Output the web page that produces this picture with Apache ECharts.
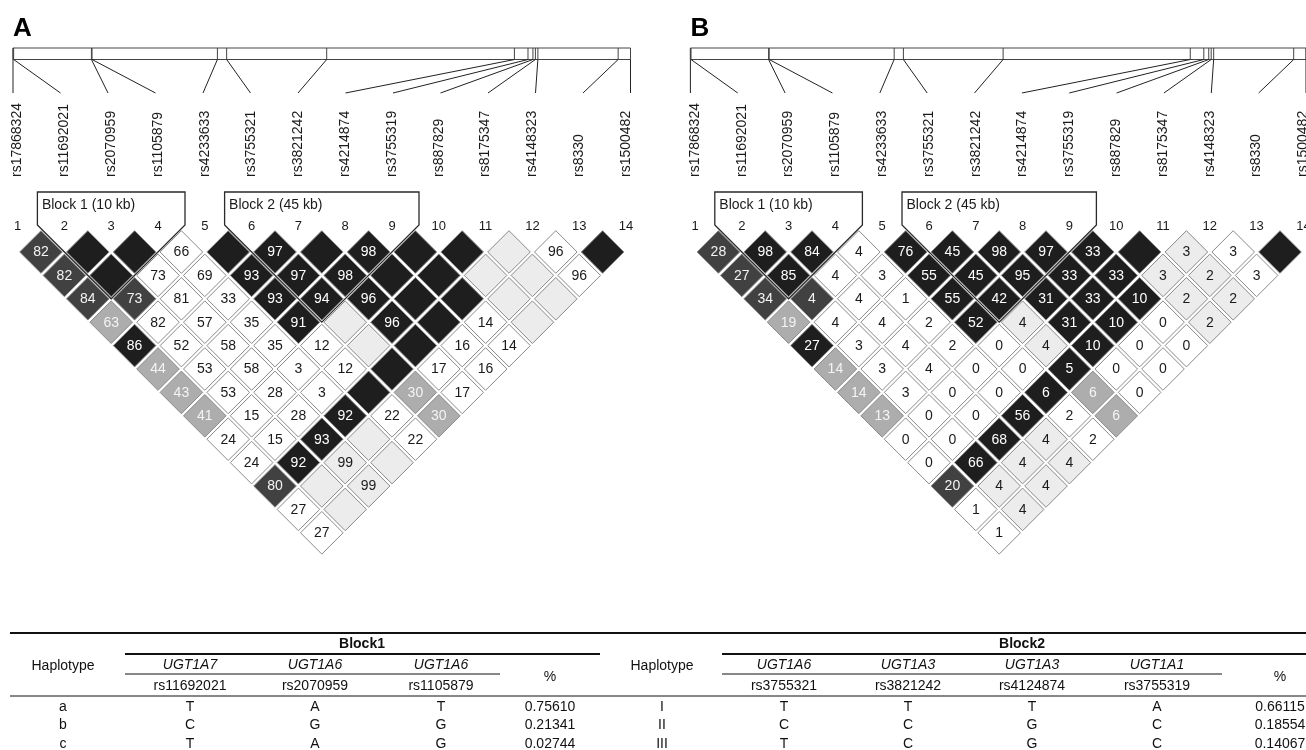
<!DOCTYPE html>
<html>
<head>
<meta charset="utf-8">
<script src="https://cdn.jsdelivr.net/npm/echarts@6/dist/echarts.min.js"></script>
<style>
html,body{margin:0;padding:0;background:#fff;}
#c{width:1306px;height:750px;}
</style>
</head>
<body>
<div id="c"></div>
<script>
// ---------------- DATA ----------------
const panelLetters = ['A', 'B'];
const snpIds = ['rs17868324','rs11692021','rs2070959','rs1105879','rs4233633','rs3755321','rs3821242',
  'rs4214874','rs3755319','rs887829','rs8175347','rs4148323','rs8330','rs1500482'];
// relative physical position along the gene region (0..1000)
const snpPhysPos = [0, 1, 127, 128, 331, 346, 508, 812, 834, 842, 846, 850, 980, 1000];
const blockStart = [2, 6];
const blockEnd = [4, 9];
const blockLabels = ['Block 1 (10 kb)', 'Block 2 (45 kb)'];

// LD values, one row per SNP distance d = j - i (row r -> d = r + 1), entries for i = 1..14-d
const ldValuesA = [
  [82,null,null,66,null,97,null,98,null,null,null,96,null],
  [82,null,73,69,93,97,98,null,null,null,null,96],
  [84,73,81,33,93,94,96,null,null,null,null],
  [63,82,57,35,91,null,96,null,14,null],
  [86,52,58,35,12,null,null,16,14],
  [44,53,58,3,12,null,17,16],
  [43,53,28,3,null,30,17],
  [41,15,28,92,22,30],
  [24,15,93,null,22],
  [24,92,99,null],
  [80,null,99],
  [27,null],
  [27]
];
const ldValuesB = [
  [28,98,84,4,76,45,98,97,33,null,3,3,null],
  [27,85,4,3,55,45,95,33,33,3,2,3],
  [34,4,4,1,55,42,31,33,10,2,2],
  [19,4,4,2,52,4,31,10,0,2],
  [27,3,4,2,0,4,10,0,0],
  [14,3,4,0,0,5,0,0],
  [14,3,0,0,6,6,0],
  [13,0,0,56,2,6],
  [0,0,68,4,2],
  [0,66,4,4],
  [20,4,4],
  [1,4],
  [1]
];
// LD strength class per cell (K strong, D dark, G medium, L weak-evidence, W low)
const ldClass = [
  'DKKWKKKKKKLWK',
  'DKWWKKKKKLLW',
  'DDWWKKKKKLL',
  'GWWWKLKKWL',
  'KWWWWLKWW',
  'GWWWWKWW',
  'GWWWKGW',
  'GWWKWG',
  'WWKLW',
  'WKLL',
  'DLL',
  'WL',
  'W'
];

// Haplotype table
const block1Genes = ['UGT1A7','UGT1A6','UGT1A6'];
const block1Snps = ['rs11692021','rs2070959','rs1105879'];
const block1Haps = ['a','b','c'];
const block1Alleles = [['T','A','T'],['C','G','G'],['T','A','G']];
const block1Freqs = ['0.75610','0.21341','0.02744'];
const block2Genes = ['UGT1A6','UGT1A3','UGT1A3','UGT1A1'];
const block2Snps = ['rs3755321','rs3821242','rs4124874','rs3755319'];
const block2Haps = ['I','II','III'];
const block2Alleles = [['T','T','T','A'],['C','C','G','C'],['T','C','G','C']];
const block2Freqs = ['0.66115','0.18554','0.14067'];

// ---------------- STYLE / LAYOUT ----------------
const FONT = "'Liberation Sans', Arial, Helvetica, sans-serif";
const PANEL_OFFSET = 677.4;
const shadeFill = {K:'#1e1e1e', D:'#414141', G:'#adadad', L:'#ececec', W:'#ffffff'};
const shadeText = {K:'#ffffff', D:'#f4f4f4', G:'#f4f4f4', L:'#1a1a1a', W:'#1a1a1a'};
const nSnp = snpIds.length;

const chart = echarts.init(document.getElementById('c'), null, {renderer:'canvas'});

const option = {
  animation: false,
  backgroundColor: '#ffffff',
  grid: [], xAxis: [], yAxis: [], series: [], graphic: []
};

function buildCells(values) {
  const cells = [];
  values.forEach((row, r) => {
    const d = r + 1;
    row.forEach((v, k) => {
      const i = k + 1, j = i + d;
      cells.push({x: (i + j) / 2, d: d, t: v == null ? '' : String(v), cls: ldClass[r][k]});
    });
  });
  return cells;
}

[ldValuesA, ldValuesB].forEach((vals, p) => {
  const off = p * PANEL_OFFSET;
  const g0 = option.grid.length;
  // triangle grid: x = SNP index, y = SNP distance
  option.grid.push({left: 17.6 + off, top: 228.6, width: 608.4, height: 327.6});
  // physical map bar grid
  option.grid.push({left: 13 + off, top: 48, width: 617.5, height: 45});
  // rs label grid
  option.grid.push({left: 17.6 + off, top: 100, width: 608.4, height: 77});
  option.xAxis.push({type:'value', gridIndex:g0, min:1, max:nSnp, show:false});
  option.yAxis.push({type:'value', gridIndex:g0, min:0, max:14, inverse:true, show:false});
  option.xAxis.push({type:'value', gridIndex:g0+1, min:0, max:1000, show:false});
  option.yAxis.push({type:'value', gridIndex:g0+1, min:0, max:1, inverse:true, show:false});
  option.xAxis.push({type:'value', gridIndex:g0+2, min:1, max:nSnp, show:false});
  option.yAxis.push({type:'value', gridIndex:g0+2, min:0, max:1, show:false});

  const cells = buildCells(vals);
  option.series.push({
    type:'custom', xAxisIndex:g0, yAxisIndex:g0, silent:true,
    data: cells.map(c => [c.x, c.d]),
    renderItem: function (params, api) {
      const c = cells[params.dataIndex];
      const pt = api.coord([c.x, c.d]);
      const s = api.size([1, 1]);
      const hw = Math.abs(s[0]) / 2 - 2.1, hh = Math.abs(s[1]) - 2.1;
      return {type:'group', children:[
        {type:'polygon', shape:{points:[[pt[0], pt[1]-hh],[pt[0]+hw, pt[1]],[pt[0], pt[1]+hh],[pt[0]-hw, pt[1]]]},
          style:{fill: shadeFill[c.cls], stroke:'#8a8a8a', lineWidth:1}},
        {type:'text', x:pt[0], y:pt[1]+0.5, style:{text:c.t, fill:shadeText[c.cls], fontSize:14, fontFamily:FONT,
          align:'center', verticalAlign:'middle'}}
      ]};
    }
  });
  // SNP index numbers
  option.series.push({
    type:'custom', xAxisIndex:g0, yAxisIndex:g0, silent:true,
    data: snpIds.map((s, k) => [k + 1, 0]),
    renderItem: function (params, api) {
      const pt = api.coord([api.value(0), api.value(1)]);
      return {type:'text', x:pt[0], y:pt[1] - 2.6, style:{text:String(params.dataIndex + 1), fill:'#1a1a1a',
        fontSize:13, fontFamily:FONT, align:'center', verticalAlign:'middle'}};
    }
  });
  // haplotype block outlines
  option.series.push({
    type:'custom', xAxisIndex:g0, yAxisIndex:g0, silent:true,
    data: blockStart.map((a, b) => [a, blockEnd[b]]),
    renderItem: function (params, api) {
      const a = api.value(0), b = api.value(1);
      const L = api.coord([a, 1]), R = api.coord([b, 1]);
      const B = api.coord([(a + b) / 2, 1 + b - a]);
      const pts = [[L[0]-27, L[1]-60], [L[0]-27, L[1]-27], B, [R[0]+27, R[1]-27], [R[0]+27, R[1]-60]];
      return {type:'group', children:[
        {type:'polygon', shape:{points:pts}, style:{fill:'none', stroke:'#2a2a2a', lineWidth:1.3}},
        {type:'text', x:L[0]-22.5, y:L[1]-47, style:{text:blockLabels[params.dataIndex], fill:'#1a1a1a',
          fontSize:14, fontFamily:FONT, align:'left', verticalAlign:'middle'}}
      ]};
    }
  });
  // physical map bar outline
  option.series.push({
    type:'custom', xAxisIndex:g0+1, yAxisIndex:g0+1, silent:true,
    data: [[0, 1000]],
    renderItem: function (params, api) {
      const cs = params.coordSys;
      const x0 = api.coord([api.value(0), 0])[0], x1 = api.coord([api.value(1), 0])[0];
      return {type:'rect', shape:{x:x0, y:cs.y, width:x1 - x0, height:11.5},
        style:{fill:'#fff', stroke:'#444', lineWidth:1}};
    }
  });
  // SNP ticks on the bar and connectors to labels
  option.series.push({
    type:'custom', xAxisIndex:g0+1, yAxisIndex:g0+1, silent:true,
    data: snpPhysPos.map((v, k) => [v, k]),
    renderItem: function (params, api) {
      const cs = params.coordSys;
      const k = api.value(1);
      const xt = api.coord([api.value(0), 0])[0];
      const xb = api.coord([k / (nSnp - 1) * 1000, 0])[0];
      const yb = cs.y + 11.5;
      return {type:'group', children:[
        {type:'line', shape:{x1:xt, y1:cs.y, x2:xt, y2:yb}, style:{stroke:'#444', lineWidth:1}},
        {type:'line', shape:{x1:xt, y1:yb, x2:xb, y2:cs.y + cs.height}, style:{stroke:'#222', lineWidth:1}}
      ]};
    }
  });
  // rs labels
  option.series.push({
    type:'custom', xAxisIndex:g0+2, yAxisIndex:g0+2, silent:true,
    data: snpIds.map((s, k) => [k + 1, 0]),
    renderItem: function (params, api) {
      const pt = api.coord([api.value(0), api.value(1)]);
      return {type:'text', x:pt[0], y:pt[1], rotation:Math.PI/2,
        style:{text:snpIds[params.dataIndex], fill:'#1a1a1a', fontSize:14, fontFamily:FONT,
          align:'left', verticalAlign:'middle'}};
    }
  });
  // panel letter
  option.graphic.push({type:'text', left:13 + off, top:16, silent:true,
    style:{text:panelLetters[p], fill:'#000', fontSize:26, fontWeight:'bold', fontFamily:FONT}});
});

// ---------------- TABLE ----------------
const tables = [
  {title:'Block1', genes:block1Genes, snps:block1Snps, haps:block1Haps, alleles:block1Alleles, freqs:block1Freqs,
   hapX:63, colX:[190,315,441], pctX:550, titleX:362, lineX:[125,600], geneLineX:[125,500]},
  {title:'Block2', genes:block2Genes, snps:block2Snps, haps:block2Haps, alleles:block2Alleles, freqs:block2Freqs,
   hapX:662, colX:[784,908,1032,1157], pctX:1280, titleX:1022, lineX:[722,1306], geneLineX:[722,1222]}
];
const rowY = [707, 725.5, 744];
function tLine(x1, y1, x2, y2, w) {
  option.graphic.push({type:'line', silent:true, shape:{x1, y1, x2, y2}, style:{stroke:'#111', lineWidth:w}});
}
function tText(t, x, y, extra) {
  option.graphic.push({type:'text', silent:true, x:x, y:y,
    style:Object.assign({text:t, fill:'#111', fontSize:14, fontFamily:FONT, align:'center', verticalAlign:'middle'}, extra || {})});
}
tLine(10, 633, 1306, 633, 2);
tLine(10, 696, 1306, 696, 1);
tables.forEach(tb => {
  tLine(tb.lineX[0], 654, tb.lineX[1], 654, 2);
  tLine(tb.geneLineX[0], 674, tb.geneLineX[1], 674, 1);
  tText(tb.title, tb.titleX, 644, {fontWeight:'bold'});
  tText('Haplotype', tb.hapX, 666);
  tText('%', tb.pctX, 677);
  tb.genes.forEach((gname, k) => tText(gname, tb.colX[k], 665, {fontStyle:'italic'}));
  tb.snps.forEach((s, k) => tText(s, tb.colX[k], 686));
  tb.haps.forEach((h, r) => {
    tText(h, tb.hapX, rowY[r]);
    tb.alleles[r].forEach((a, k) => tText(a, tb.colX[k], rowY[r]));
    tText(tb.freqs[r], tb.pctX, rowY[r]);
  });
});

chart.setOption(option);
</script>
</body>
</html>
